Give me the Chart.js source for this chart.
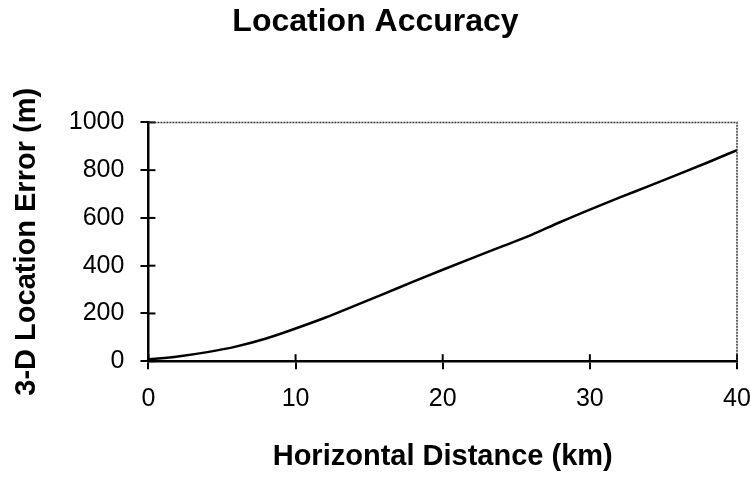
<!DOCTYPE html>
<html>
<head>
<meta charset="utf-8">
<title>Location Accuracy</title>
<script src="https://cdn.jsdelivr.net/npm/chart.js@4/dist/chart.umd.min.js"></script>
<style>
  html, body { margin: 0; padding: 0; background: #fff; }
  #wrap { width: 751px; height: 478px; }
</style>
</head>
<body>
<div id="wrap"><canvas id="chart"></canvas></div>
<script>
// horizontal distance (km) and 3-D location error (m)
const distanceKm = [0, 2, 4, 6, 8, 10, 12, 14, 16, 18, 20, 22, 24, 26, 28, 30, 32, 34, 36, 38, 40];
const errorM = [8, 20, 38, 62, 95, 137, 182, 232, 282, 333, 383, 432, 480, 528, 583, 635, 685, 733, 782, 832, 884];

const xTicks = [0, 10, 20, 30, 40];
const yTicks = [0, 200, 400, 600, 800, 1000];

const fontFamily = '"Liberation Sans", Arial, sans-serif';

// ticks in the original cross the axis, so draw the inner half too,
// plus the thin dotted frame on top and right
const frame = {
  id: 'frame',
  afterDraw(chart) {
    const { ctx, chartArea: a, scales } = chart;
    ctx.save();
    ctx.strokeStyle = '#000';
    ctx.lineWidth = 2;
    scales.x.ticks.forEach((t, i) => {
      const px = scales.x.getPixelForTick(i);
      ctx.beginPath();
      ctx.moveTo(px, a.bottom);
      ctx.lineTo(px, a.bottom - 7);
      ctx.stroke();
    });
    scales.y.ticks.forEach((t, i) => {
      const py = scales.y.getPixelForTick(i);
      ctx.beginPath();
      ctx.moveTo(a.left, py);
      ctx.lineTo(a.left + 7, py);
      ctx.stroke();
    });
    ctx.strokeStyle = '#333';
    ctx.lineWidth = 1.5;
    ctx.setLineDash([2, 1]);
    ctx.beginPath();
    ctx.moveTo(a.left, a.top);
    ctx.lineTo(a.right, a.top);
    ctx.lineTo(a.right, a.bottom);
    ctx.stroke();
    ctx.restore();
  },
};

new Chart(document.getElementById('chart'), {
  type: 'line',
  data: {
    datasets: [
      {
        data: distanceKm.map((d, i) => ({ x: d, y: errorM[i] })),
        borderColor: '#000',
        borderWidth: 2.5,
        pointRadius: 0,
        cubicInterpolationMode: 'monotone',
        fill: false,
      },
    ],
  },
  options: {
    responsive: true,
    maintainAspectRatio: false,
    animation: false,
    layout: { padding: 0 },
    plugins: {
      legend: { display: false },
      tooltip: { enabled: false },
      title: {
        display: true,
        text: 'Location Accuracy',
        color: '#000',
        font: { family: fontFamily, size: 32, weight: 'bold' },
        padding: { top: 3, bottom: 81 },
      },
    },
    scales: {
      x: {
        type: 'linear',
        min: 0,
        max: 40,
        afterBuildTicks: (scale) => { scale.ticks = xTicks.map((v) => ({ value: v })); },
        // the last label hangs past the frame in the original, so only keep half its width
        afterFit: (scale) => { scale.paddingRight = 14; },
        ticks: {
          color: '#000',
          padding: 15,
          maxRotation: 0,
          font: { family: fontFamily, size: 25 },
          callback: (v) => String(v),
        },
        grid: { drawOnChartArea: false, color: '#000', lineWidth: 2, tickLength: 8 },
        border: { color: '#000', width: 2.5 },
        title: {
          display: true,
          text: 'Horizontal Distance (km)',
          color: '#000',
          font: { family: fontFamily, size: 29, weight: 'bold' },
          padding: { top: 10, bottom: 4 },
        },
      },
      y: {
        min: 0,
        max: 1000,
        afterBuildTicks: (scale) => { scale.ticks = yTicks.map((v) => ({ value: v })); },
        ticks: {
          color: '#000',
          padding: 16,
          font: { family: fontFamily, size: 25 },
          callback: (v) => String(v),
        },
        grid: { drawOnChartArea: false, color: '#000', lineWidth: 2, tickLength: 8 },
        border: { color: '#000', width: 2.5 },
        title: {
          display: true,
          text: '3-D Location Error (m)',
          color: '#000',
          font: { family: fontFamily, size: 29, weight: 'bold' },
          padding: { top: 10, bottom: 8 },
        },
      },
    },
  },
  plugins: [frame],
});
</script>
</body>
</html>
